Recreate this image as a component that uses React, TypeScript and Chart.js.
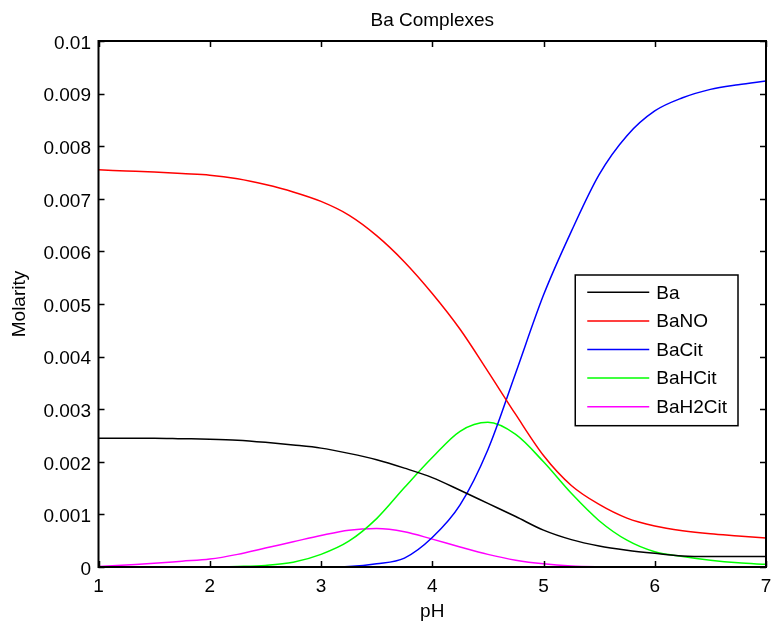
import React, { useEffect, useRef } from 'react';
import { Chart, registerables } from 'chart.js';

Chart.register(...registerables);

// ---- data ----
const pH = [1, 1.25, 1.5, 1.75, 2, 2.25, 2.5, 2.75, 3, 3.25, 3.5, 3.75, 4, 4.25, 4.5, 4.75, 5, 5.25, 5.5, 5.75, 6, 6.25, 6.5, 6.75, 7];

const ba = [0.00245, 0.00245, 0.00245, 0.00244, 0.00243, 0.00241, 0.00237, 0.00232, 0.00226, 0.00216, 0.00204, 0.00188, 0.0017, 0.00146, 0.00121, 0.00096, 0.0007, 0.00052, 0.0004, 0.00032, 0.00026, 0.00021, 0.0002, 0.0002, 0.0002];
const baNO = [0.00755, 0.00753, 0.00751, 0.00748, 0.00745, 0.00738, 0.00727, 0.00713, 0.00695, 0.00669, 0.0063, 0.0058, 0.0052, 0.00452, 0.00372, 0.0029, 0.00212, 0.00155, 0.00119, 0.00093, 0.00078, 0.00069, 0.00063, 0.00059, 0.00055];
const baCit = [0, 0, 0, 0, 0, 0, 0, 0, 0.000002, 0.00001, 0.00006, 0.00017, 0.00056, 0.00118, 0.00223, 0.00369, 0.00517, 0.00638, 0.00746, 0.0082, 0.00867, 0.00892, 0.00908, 0.00917, 0.00924];
const baHCit = [0, 0, 0, 0, 0, 0.00001, 0.00003, 0.00009, 0.00024, 0.00049, 0.00092, 0.00151, 0.00208, 0.00258, 0.00275, 0.00252, 0.002, 0.0014, 0.00088, 0.00051, 0.00029, 0.0002, 0.00013, 0.00008, 0.00005];
const baH2Cit = [0.00001, 0.00004, 0.00007, 0.00011, 0.00015, 0.00024, 0.00036, 0.00048, 0.0006, 0.0007, 0.00073, 0.00067, 0.00053, 0.00038, 0.00024, 0.00013, 0.00006, 0.00002, 0.000005, 0, 0, 0, 0, 0, 0];

const seriesNames = ['Ba', 'BaNO', 'BaCit', 'BaHCit', 'BaH2Cit'];
const seriesValues = [ba, baNO, baCit, baHCit, baH2Cit];
const seriesColors = ['#000000', '#ff0000', '#0000ff', '#00ff00', '#ff00ff'];

const xTickLabels = ['1', '2', '3', '4', '5', '6', '7'];
const yTickLabels = ['0', '0.001', '0.002', '0.003', '0.004', '0.005', '0.006', '0.007', '0.008', '0.009', '0.01'];

const chartTitle = 'Ba Complexes';
const xTitle = 'pH';
const yTitle = 'Molarity';

// ---- style ----
const FAMILY = '"Liberation Sans", Arial, Helvetica, sans-serif';
const FSIZE = 19;
const FONT = `${FSIZE}px ${FAMILY}`;

const framePlugin = {
  id: 'matlabFrame',
  afterDraw(chart: any) {
    const { ctx, chartArea: a, scales } = chart;
    ctx.save();
    ctx.strokeStyle = '#000';
    ctx.lineWidth = 1.5;
    const tl = 6;
    ctx.beginPath();
    scales.x.ticks.forEach((t: any) => {
      const px = Math.round(scales.x.getPixelForValue(t.value)) + 0.5;
      ctx.moveTo(px, a.bottom);
      ctx.lineTo(px, a.bottom - tl);
      ctx.moveTo(px, a.top);
      ctx.lineTo(px, a.top + tl);
    });
    scales.y.ticks.forEach((t: any) => {
      const py = Math.round(scales.y.getPixelForValue(t.value)) + 0.5;
      ctx.moveTo(a.left, py);
      ctx.lineTo(a.left + tl, py);
      ctx.moveTo(a.right, py);
      ctx.lineTo(a.right - tl, py);
    });
    ctx.stroke();
    ctx.lineWidth = 2;
    ctx.strokeRect(a.left, a.top, a.right - a.left, a.bottom - a.top);

    // title
    ctx.fillStyle = '#000';
    ctx.font = FONT;
    ctx.textAlign = 'center';
    ctx.textBaseline = 'alphabetic';
    ctx.fillText(chartTitle, (a.left + a.right) / 2, 26);

    // legend
    const boxRight = a.right - 28;
    const boxTop = a.top + 234;
    let maxW = 0;
    seriesNames.forEach((n) => { maxW = Math.max(maxW, ctx.measureText(n).width); });
    const lineLen = 62;
    const padL = 12;
    const gap = 7;
    const padR = 11;
    const boxW = padL + lineLen + gap + maxW + padR;
    const boxLeft = boxRight - boxW;
    const rowH = 28.6;
    const firstRow = 17.3;
    const boxH = firstRow + rowH * (seriesNames.length - 1) + 19;
    ctx.fillStyle = '#fff';
    ctx.fillRect(boxLeft, boxTop, boxW, boxH);
    ctx.lineWidth = 1.5;
    ctx.strokeStyle = '#000';
    ctx.strokeRect(boxLeft, boxTop, boxW, boxH);
    ctx.textAlign = 'left';
    ctx.textBaseline = 'middle';
    seriesNames.forEach((n, i) => {
      const y = boxTop + firstRow + rowH * i;
      ctx.strokeStyle = seriesColors[i];
      ctx.lineWidth = 1.5;
      ctx.beginPath();
      ctx.moveTo(boxLeft + padL, y);
      ctx.lineTo(boxLeft + padL + lineLen, y);
      ctx.stroke();
      ctx.fillStyle = '#000';
      ctx.fillText(n, boxLeft + padL + lineLen + gap, y + 1);
    });
    ctx.restore();
  },
};

export default function App() {
  const ref = useRef<HTMLCanvasElement | null>(null);

  useEffect(() => {
    document.body.style.margin = '0';
    const canvas = ref.current;
    if (!canvas) return;
    const chart = new Chart(canvas, {
      type: 'line',
      data: {
        datasets: seriesNames.map((name, i) => ({
          label: name,
          data: pH.map((x, j) => ({ x, y: seriesValues[i][j] })),
          borderColor: seriesColors[i],
          backgroundColor: seriesColors[i],
          borderWidth: 1.5,
          pointRadius: 0,
          fill: false,
          cubicInterpolationMode: 'monotone' as const,
        })),
      },
      options: {
        animation: false,
        responsive: false,
        devicePixelRatio: 1,
        layout: { padding: { top: 41, right: 8, bottom: 0, left: 0 } },
        plugins: {
          legend: { display: false },
          tooltip: { enabled: false },
          title: { display: false },
        },
        scales: {
          x: {
            type: 'linear',
            min: 1,
            max: 7,
            afterFit: (s: any) => {
              s.height = 54;
              s.paddingLeft = 0;
              s.paddingRight = 0;
            },
            grid: { display: false, drawTicks: false },
            border: { display: false },
            ticks: {
              stepSize: 1,
              autoSkip: false,
              maxRotation: 0,
              padding: 8,
              color: '#000',
              font: { family: FAMILY, size: FSIZE },
              callback: (_v: any, i: number) => xTickLabels[i],
            },
            title: {
              display: true,
              text: xTitle,
              color: '#000',
              font: { family: FAMILY, size: FSIZE, lineHeight: 1 },
              padding: { top: 0, bottom: 0 },
            },
          },
          y: {
            type: 'linear',
            min: 0,
            max: 0.01,
            afterFit: (s: any) => {
              s.width = 98.5;
              s.paddingTop = 0;
              s.paddingBottom = 0;
            },
            grid: { display: false, drawTicks: false },
            border: { display: false },
            ticks: {
              stepSize: 0.001,
              autoSkip: false,
              padding: 7.5,
              labelOffset: 2.5,
              color: '#000',
              font: { family: FAMILY, size: FSIZE },
              callback: (_v: any, i: number) => yTickLabels[i],
            },
            title: {
              display: true,
              text: yTitle,
              color: '#000',
              font: { family: FAMILY, size: FSIZE, lineHeight: 1 },
              padding: { top: 10.5, bottom: 0 },
            },
          },
        },
      },
      plugins: [framePlugin],
    });
    return () => chart.destroy();
  }, []);

  return <canvas ref={ref} width={774} height={621} style={{ display: 'block' }} />;
}
